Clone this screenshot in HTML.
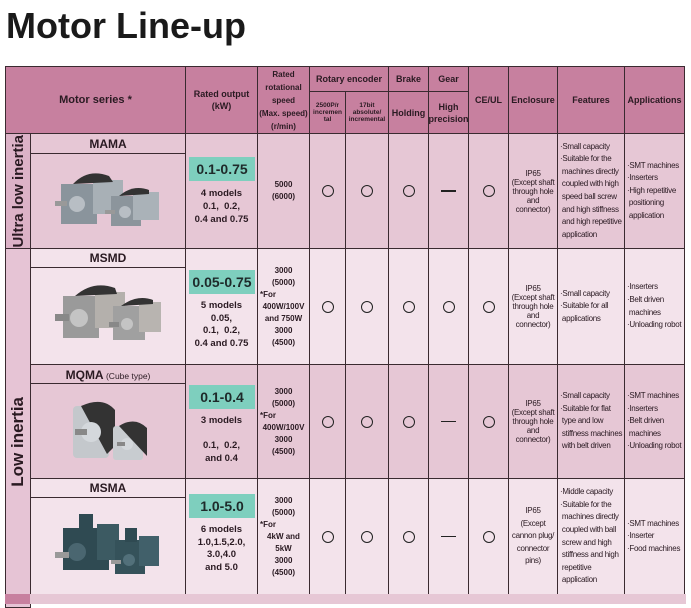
<!DOCTYPE html>
<html><head><meta charset="utf-8"><style>
body{margin:0;width:691px;height:597px;overflow:hidden;background:#fff;font-family:"Liberation Sans",sans-serif;position:relative}
.c{position:absolute;box-sizing:border-box;border:1.3px solid #3a2a30;display:flex;align-items:center;justify-content:center;text-align:center;color:#2a1a22;flex-direction:column}
.h{background:#c7809f;font-weight:bold;font-size:9px;line-height:12px}
.t{font-size:6.5px;line-height:7px;font-weight:bold}
.o{width:12px;height:12px;border:1.4px solid #222;border-radius:50%;box-sizing:border-box}
.d{width:15px;height:1.4px;background:#222}
.nm{font-weight:bold;font-size:12px}
.g{position:absolute;background:#7ecfbe;font-weight:bold;font-size:14px;display:flex;align-items:center;justify-content:center;color:#1e2a2a}
.m{position:absolute;font-weight:bold;font-size:9.5px;line-height:13px;text-align:center;color:#2a1a22}
.sp{font-weight:bold;font-size:8px;line-height:12px}
.en{font-size:8px;line-height:9px;letter-spacing:-0.3px}
.f{font-size:8px;line-height:12.6px;letter-spacing:-0.3px;align-items:flex-start;text-align:left;padding-left:2px}
.v{writing-mode:vertical-rl;transform:rotate(180deg);font-weight:bold;font-size:17px;white-space:nowrap}
</style></head><body>
<div style="position:absolute;left:6px;top:5px;font-weight:bold;font-size:36px;color:#1a1a1a">Motor Line-up</div>

<div class="c h" style="left:5px;top:66px;width:181px;height:68px;font-size:11px">Motor series *</div>
<div class="c h" style="left:185px;top:66px;width:73px;height:68px">Rated output<br>(kW)</div>
<div class="c h" style="left:257px;top:66px;width:53px;height:68px;font-size:8px;line-height:13px">Rated<br>rotational<br>speed<br>(Max. speed)<br>(r/min)</div>
<div class="c h" style="left:309px;top:66px;width:80px;height:26px">Rotary encoder</div>
<div class="c h" style="left:388px;top:66px;width:41px;height:26px">Brake</div>
<div class="c h" style="left:428px;top:66px;width:41px;height:26px">Gear</div>
<div class="c h t" style="left:309px;top:91px;width:37px;height:43px">2500P/r<br>incremen<br>tal</div>
<div class="c h t" style="left:345px;top:91px;width:44px;height:43px">17bit<br>absolute/<br>incremental</div>
<div class="c h" style="left:388px;top:91px;width:41px;height:43px">Holding</div>
<div class="c h" style="left:428px;top:91px;width:41px;height:43px">High<br>precision</div>
<div class="c h" style="left:468px;top:66px;width:41px;height:68px">CE/UL</div>
<div class="c h" style="left:508px;top:66px;width:50px;height:68px">Enclosure</div>
<div class="c h" style="left:557px;top:66px;width:68px;height:68px">Features</div>
<div class="c h" style="left:624px;top:66px;width:61px;height:68px">Applications</div>

<div class="c" style="left:5px;top:133px;width:26px;height:116px;background:#dcb2c7"><span class="v" style="font-size:15px">Ultra low inertia</span></div>
<div class="c" style="left:5px;top:248px;width:26px;height:360px;background:#e6c4d5"><span class="v" style="position:absolute;top:148px">Low inertia</span></div>

<div class="c nm" style="left:30px;top:133px;width:156px;height:21px;background:#e6c7d5">MAMA</div>
<div class="c" style="left:30px;top:153px;width:156px;height:96px;background:#e6c7d5">
<svg width="110" height="70" viewBox="0 0 110 70"><rect x="8" y="18" width="36" height="40" fill="#8a949c"/><rect x="40" y="14" width="30" height="34" fill="#a8b0b6"/><path d="M20 18 Q35 2 56 10 L60 16 Z" fill="#333"/><circle cx="24" cy="38" r="8" fill="#b8bec4"/><rect x="2" y="35" width="12" height="5" fill="#999"/><rect x="58" y="30" width="30" height="30" fill="#8c959c"/><rect x="80" y="26" width="26" height="28" fill="#aab2b8"/><path d="M66 30 Q80 18 96 24 L96 28 Z" fill="#333"/><circle cx="72" cy="46" r="6" fill="#b8bec4"/><rect x="52" y="44" width="10" height="4" fill="#999"/></svg></div>
<div class="c" style="left:185px;top:133px;width:73px;height:116px;background:#e6c7d5"></div>
<div class="g" style="left:189px;top:157px;width:66px;height:24px">0.1-0.75</div>
<div class="m" style="left:185px;top:187px;width:73px">4 models<br>0.1,&nbsp;&nbsp;0.2,<br>0.4 and 0.75</div>
<div class="c sp" style="left:257px;top:133px;width:53px;height:116px;background:#e6c7d5">5000<br>(6000)</div>
<div class="c" style="left:309px;top:133px;width:37px;height:116px;background:#e6c7d5"><div class="o"></div></div>
<div class="c" style="left:345px;top:133px;width:44px;height:116px;background:#e6c7d5"><div class="o"></div></div>
<div class="c" style="left:388px;top:133px;width:41px;height:116px;background:#e6c7d5"><div class="o"></div></div>
<div class="c" style="left:428px;top:133px;width:41px;height:116px;background:#e6c7d5"><div class="d"></div></div>
<div class="c" style="left:468px;top:133px;width:41px;height:116px;background:#e6c7d5"><div class="o"></div></div>
<div class="c en" style="left:508px;top:133px;width:50px;height:116px;background:#e6c7d5">IP65<br>(Except shaft<br>through hole<br>and<br>connector)</div>
<div class="c f" style="left:557px;top:133px;width:68px;height:116px;background:#e6c7d5">·Small capacity<br>·Suitable for the<br>&nbsp;machines directly<br>&nbsp;coupled with high<br>&nbsp;speed ball screw<br>&nbsp;and high stiffness<br>&nbsp;and high repetitive<br>&nbsp;application</div>
<div class="c f" style="left:624px;top:133px;width:61px;height:116px;background:#e6c7d5">·SMT machines<br>·Inserters<br>·High repetitive<br>&nbsp;positioning<br>&nbsp;application</div>

<div class="c nm" style="left:30px;top:248px;width:156px;height:20px;background:#f3e3eb">MSMD</div>
<div class="c" style="left:30px;top:267px;width:156px;height:98px;background:#f3e3eb">
<svg width="110" height="72" viewBox="0 0 110 72"><rect x="10" y="16" width="36" height="42" fill="#9a9a9a"/><rect x="42" y="12" width="30" height="36" fill="#b4b0ac"/><path d="M22 16 Q40 0 62 8 L64 14 Z" fill="#333"/><circle cx="26" cy="38" r="9" fill="#c4c4c4"/><rect x="2" y="34" width="14" height="7" fill="#888"/><rect x="60" y="26" width="32" height="34" fill="#a0a0a0"/><rect x="86" y="22" width="22" height="30" fill="#b8b4b0"/><path d="M68 26 Q84 14 100 20 L100 24 Z" fill="#333"/><circle cx="74" cy="44" r="6" fill="#c4c4c4"/><rect x="56" y="42" width="10" height="5" fill="#888"/></svg></div>
<div class="c" style="left:185px;top:248px;width:73px;height:117px;background:#f3e3eb"></div>
<div class="g" style="left:189px;top:270px;width:66px;height:24px">0.05-0.75</div>
<div class="m" style="left:185px;top:300px;width:73px;line-height:12.5px">5 models<br>0.05,<br>0.1,&nbsp;&nbsp;0.2,<br>0.4 and 0.75</div>
<div class="c sp" style="left:257px;top:248px;width:53px;height:117px;background:#f3e3eb">3000<br>(5000)<br><span style="align-self:flex-start;padding-left:2px">*For</span>400W/100V<br>and 750W<br>3000<br>(4500)</div>
<div class="c" style="left:309px;top:248px;width:37px;height:117px;background:#f3e3eb"><div class="o"></div></div>
<div class="c" style="left:345px;top:248px;width:44px;height:117px;background:#f3e3eb"><div class="o"></div></div>
<div class="c" style="left:388px;top:248px;width:41px;height:117px;background:#f3e3eb"><div class="o"></div></div>
<div class="c" style="left:428px;top:248px;width:41px;height:117px;background:#f3e3eb"><div class="o"></div></div>
<div class="c" style="left:468px;top:248px;width:41px;height:117px;background:#f3e3eb"><div class="o"></div></div>
<div class="c en" style="left:508px;top:248px;width:50px;height:117px;background:#f3e3eb">IP65<br>(Except shaft<br>through hole<br>and<br>connector)</div>
<div class="c f" style="left:557px;top:248px;width:68px;height:117px;background:#f3e3eb;justify-content:center">·Small capacity<br>·Suitable for all<br>&nbsp;applications</div>
<div class="c f" style="left:624px;top:248px;width:61px;height:117px;background:#f3e3eb">·Inserters<br>·Belt driven<br>&nbsp;machines<br>·Unloading robot</div>

<div class="c nm" style="left:30px;top:364px;width:156px;height:20px;background:#e6c7d5;flex-direction:row;align-items:baseline;padding-top:3px">MQMA<span style="font-weight:normal;font-size:8.5px">&nbsp;(Cube type)</span></div>
<div class="c" style="left:30px;top:383px;width:156px;height:96px;background:#e6c7d5">
<svg width="110" height="70" viewBox="0 0 110 70"><rect x="20" y="10" width="36" height="52" rx="4" fill="#c4c8cc"/><path d="M28 10 Q50 0 62 14 L62 50 L54 58 Z" fill="#333"/><circle cx="38" cy="36" r="10" fill="#d4d8dc"/><rect x="22" y="33" width="12" height="6" fill="#888"/><rect x="60" y="30" width="30" height="34" rx="3" fill="#c8ccd0"/><path d="M66 30 Q82 20 94 32 L94 60 Z" fill="#333"/><circle cx="74" cy="48" r="6" fill="#d4d8dc"/><rect x="64" y="46" width="8" height="4" fill="#888"/></svg></div>
<div class="c" style="left:185px;top:364px;width:73px;height:115px;background:#e6c7d5"></div>
<div class="g" style="left:189px;top:385px;width:66px;height:24px">0.1-0.4</div>
<div class="m" style="left:185px;top:415px;width:73px;line-height:12.5px">3 models<br><br>0.1,&nbsp;&nbsp;0.2,<br>and 0.4</div>
<div class="c sp" style="left:257px;top:364px;width:53px;height:115px;background:#e6c7d5">3000<br>(5000)<br><span style="align-self:flex-start;padding-left:2px">*For</span>400W/100V<br>3000<br>(4500)</div>
<div class="c" style="left:309px;top:364px;width:37px;height:115px;background:#e6c7d5"><div class="o"></div></div>
<div class="c" style="left:345px;top:364px;width:44px;height:115px;background:#e6c7d5"><div class="o"></div></div>
<div class="c" style="left:388px;top:364px;width:41px;height:115px;background:#e6c7d5"><div class="o"></div></div>
<div class="c" style="left:428px;top:364px;width:41px;height:115px;background:#e6c7d5"><div class="d"></div></div>
<div class="c" style="left:468px;top:364px;width:41px;height:115px;background:#e6c7d5"><div class="o"></div></div>
<div class="c en" style="left:508px;top:364px;width:50px;height:115px;background:#e6c7d5">IP65<br>(Except shaft<br>through hole<br>and<br>connector)</div>
<div class="c f" style="left:557px;top:364px;width:68px;height:115px;background:#e6c7d5">·Small capacity<br>·Suitable for flat<br>&nbsp;type and low<br>&nbsp;stiffness machines<br>&nbsp;with belt driven</div>
<div class="c f" style="left:624px;top:364px;width:61px;height:115px;background:#e6c7d5">·SMT machines<br>·Inserters<br>·Belt driven<br>&nbsp;machines<br>·Unloading robot</div>

<div class="c nm" style="left:30px;top:478px;width:156px;height:20px;background:#f3e3eb">MSMA</div>
<div class="c" style="left:30px;top:497px;width:156px;height:98px;background:#f3e3eb">
<svg width="110" height="72" viewBox="0 0 110 72"><rect x="10" y="18" width="46" height="42" fill="#2f4a52"/><rect x="44" y="14" width="22" height="36" fill="#3c5a62"/><rect x="26" y="4" width="14" height="16" fill="#2f4a52"/><circle cx="24" cy="42" r="9" fill="#4a6670"/><rect x="2" y="42" width="14" height="6" fill="#999"/><rect x="62" y="30" width="30" height="34" fill="#35525a"/><rect x="86" y="26" width="20" height="30" fill="#41606a"/><rect x="72" y="18" width="12" height="14" fill="#2f4a52"/><circle cx="76" cy="50" r="6" fill="#52707a"/><rect x="58" y="50" width="10" height="4" fill="#999"/></svg></div>
<div class="c" style="left:185px;top:478px;width:73px;height:117px;background:#f3e3eb"></div>
<div class="g" style="left:189px;top:494px;width:66px;height:24px">1.0-5.0</div>
<div class="m" style="left:185px;top:524px;width:73px;line-height:12.5px">6 models<br>1.0,1.5,2.0,<br>3.0,4.0<br>and 5.0</div>
<div class="c sp" style="left:257px;top:478px;width:53px;height:117px;background:#f3e3eb">3000<br>(5000)<br><span style="align-self:flex-start;padding-left:2px">*For</span>4kW and<br>5kW<br>3000<br>(4500)</div>
<div class="c" style="left:309px;top:478px;width:37px;height:117px;background:#f3e3eb"><div class="o"></div></div>
<div class="c" style="left:345px;top:478px;width:44px;height:117px;background:#f3e3eb"><div class="o"></div></div>
<div class="c" style="left:388px;top:478px;width:41px;height:117px;background:#f3e3eb"><div class="o"></div></div>
<div class="c" style="left:428px;top:478px;width:41px;height:117px;background:#f3e3eb"><div class="d"></div></div>
<div class="c" style="left:468px;top:478px;width:41px;height:117px;background:#f3e3eb"><div class="o"></div></div>
<div class="c en" style="left:508px;top:478px;width:50px;height:117px;background:#f3e3eb;line-height:12.5px">IP65<br>(Except<br>cannon plug/<br>connector<br>pins)</div>
<div class="c f" style="left:557px;top:478px;width:68px;height:117px;background:#f3e3eb">·Middle capacity<br>·Suitable for the<br>&nbsp;machines directly<br>&nbsp;coupled with ball<br>&nbsp;screw and high<br>&nbsp;stiffness and high<br>&nbsp;repetitive<br>&nbsp;application</div>
<div class="c f" style="left:624px;top:478px;width:61px;height:117px;background:#f3e3eb">·SMT machines<br>·Inserter<br>·Food machines</div>

<div style="position:absolute;left:5px;top:594px;width:680px;height:10px;background:#e6c7d5;border-left:1.3px solid #3a2a30"></div>
<div style="position:absolute;left:5px;top:594px;width:25px;height:10px;background:#c7809f"></div>
</body></html>
